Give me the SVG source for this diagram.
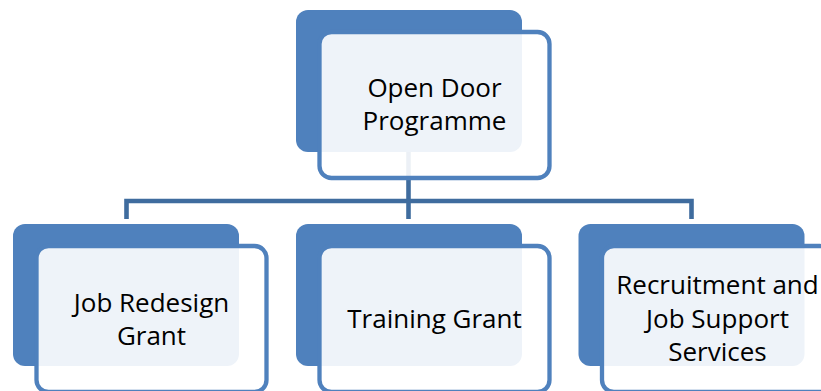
<svg xmlns="http://www.w3.org/2000/svg" width="821" height="391" viewBox="0 0 821 391">
<style>
.back{fill:#4F81BD}
.front{fill:#FFFFFF;fill-opacity:0.9;stroke:#4F81BD;stroke-width:4.3}
.conn{fill:none;stroke:#3F6C9E;stroke-width:4.6;stroke-linejoin:miter}
.lbl{font-family:"Open Sans","Noto Sans",sans-serif;font-size:26px;fill:#000;text-anchor:middle}
</style>
<rect width="821" height="391" fill="#FFFFFF"/>
<g id="connectors">
<path class="conn" d="M408.5,150 V201"/>
<path class="conn" d="M126.5,219 V201 H691.5 V219"/>
<path class="conn" d="M408.5,201 V219"/>
</g>
<g id="node-open-door">
<rect class="back" x="296" y="10" width="226" height="142" rx="12"/>
<rect class="front" x="319.5" y="32" width="230" height="146" rx="12"/>
<text class="lbl" x="434.5" y="97">Open Door</text>
<text class="lbl" x="434.5" y="130">Programme</text>
</g>
<g id="node-job-redesign">
<rect class="back" x="13" y="224" width="226" height="142" rx="12"/>
<rect class="front" x="36.5" y="246" width="230" height="146" rx="12"/>
<text class="lbl" x="151.5" y="312">Job Redesign</text>
<text class="lbl" x="151.5" y="345">Grant</text>
</g>
<g id="node-training">
<rect class="back" x="296" y="224" width="226" height="142" rx="12"/>
<rect class="front" x="319.5" y="246" width="230" height="146" rx="12"/>
<text class="lbl" x="434.5" y="327.5">Training Grant</text>
</g>
<g id="node-recruitment">
<rect class="back" x="578.5" y="224" width="226" height="142" rx="12"/>
<rect class="front" x="602" y="246" width="230" height="146" rx="12"/>
<text class="lbl" x="717.5" y="294">Recruitment and</text>
<text class="lbl" x="717.5" y="327.5">Job Support</text>
<text class="lbl" x="717.5" y="361">Services</text>
</g>
</svg>
